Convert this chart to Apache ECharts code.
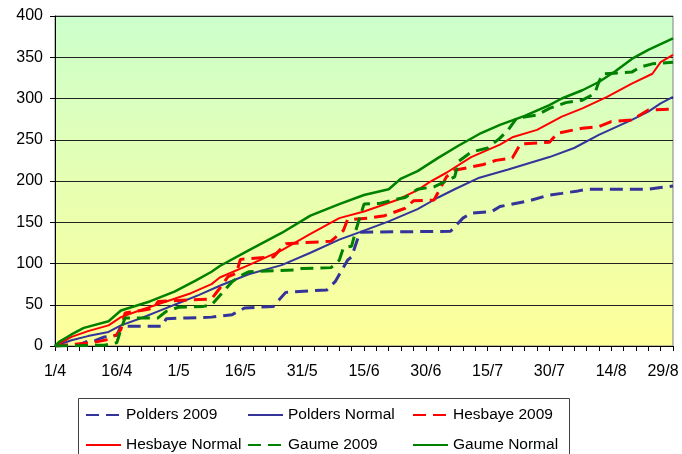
<!DOCTYPE html>
<html>
<head>
<meta charset="utf-8">
<script src="https://cdn.jsdelivr.net/npm/echarts@6/dist/echarts.min.js"></script>
<style>
html,body{margin:0;padding:0;background:#fff;}
#chart{width:682px;height:454px;}
</style>
</head>
<body>
<div id="chart"></div>
<script>
// Day index: 0 = 1/4/2009 ... 150 = 29/8/2009
const startDate = [2009, 3, 1];
const yTicks = [0, 50, 100, 150, 200, 250, 300, 350, 400];
const seriesNames = ['Polders 2009', 'Polders Normal', 'Hesbaye 2009', 'Hesbaye Normal', 'Gaume 2009', 'Gaume Normal'];

const polders2009 = [[0,0],[6,2],[8,6],[10,7],[12,11],[15,13],[16,24],[26,24],[27,33],[32,34],[38,35],[43,38],[46,46],[53,48],[56,65],[66,68],[68,78],[71,104],[72,108],[74,138],[96,139],[99,155],[101,161],[106,163],[108,169],[115,176],[120,183],[123,185],[127,188],[129,190],[144,190],[147,192],[150,194]];
const poldersNormal = [[0,0],[4,7],[8,12],[13,17],[16,25],[21,34],[25,42],[31,54],[35,62],[40,73],[47,87],[55,98],[62,113],[69,129],[74,138],[81,151],[88,166],[93,180],[97,190],[103,204],[110,214],[120,229],[126,240],[132,256],[140,274],[144,284],[147,294],[150,302]];
const hesbaye2009 = [[0,0],[7,3],[10,5],[13,8],[15,14],[16,20],[17,40],[22,44],[24,46],[25,54],[38,57],[40,70],[42,84],[44,88],[45,105],[53,108],[56,124],[67,127],[70,140],[71,153],[76,155],[80,158],[85,167],[87,176],[92,177],[95,205],[97,213],[100,216],[104,220],[107,225],[111,228],[113,245],[120,247],[122,258],[128,264],[132,266],[135,272],[140,274],[142,280],[144,286],[150,287]];
const hesbayeNormal = [[0,0],[4,11],[8,18],[13,25],[16,35],[21,44],[27,54],[33,64],[38,75],[40,83],[47,98],[55,116],[62,136],[69,155],[75,163],[83,177],[88,189],[91,199],[95,210],[101,229],[108,244],[111,253],[117,262],[123,278],[128,288],[134,302],[140,318],[145,330],[147,344],[150,353]];
const gaume2009 = [[0,0],[12,1],[15,4],[16,20],[17,34],[25,34],[27,42],[30,47],[36,48],[38,50],[43,78],[45,85],[47,90],[58,92],[60,94],[67,95],[69,104],[70,119],[72,121],[73,140],[75,172],[79,173],[82,177],[85,180],[88,190],[92,193],[95,200],[97,205],[98,224],[101,235],[105,240],[108,252],[110,262],[112,276],[117,280],[120,288],[124,295],[128,298],[131,306],[132,320],[133,330],[140,332],[142,338],[145,342],[150,344]];
const gaumeNormal = [[0,0],[1,5],[4,14],[7,22],[13,30],[16,43],[23,54],[29,66],[34,79],[38,90],[40,97],[47,116],[55,137],[62,158],[69,172],[75,183],[81,190],[84,203],[88,212],[93,228],[98,243],[103,257],[108,268],[114,279],[120,292],[123,300],[128,310],[132,320],[136,333],[140,348],[144,359],[150,373]];

const seriesData = [polders2009, poldersNormal, hesbaye2009, hesbayeNormal, gaume2009, gaumeNormal];
const colors = ['#333399', '#333399', '#FF0000', '#FF0000', '#008000', '#008000'];
const dashed = [true, false, true, false, true, false];
const widths = [3, 2, 3, 2, 3, 2.5];

function dayLabel(d) {
  const dt = new Date(startDate[0], startDate[1], startDate[2] + d);
  return dt.getDate() + '/' + (dt.getMonth() + 1);
}

const chart = echarts.init(document.getElementById('chart'), null, {renderer: 'canvas'});
const font = 'Liberation Sans, Arial, sans-serif';

const legendCommon = {
  orient: 'vertical',
  top: 407,
  height: 48,
  padding: 0,
  itemWidth: 35,
  itemHeight: 14,
  itemGap: 14,
  selectedMode: false,
  itemStyle: {opacity: 0},
  textStyle: {fontFamily: font, fontSize: 15.5, color: '#000', lineHeight: 15}
};

chart.setOption({
  animation: false,
  backgroundColor: '#fff',
  grid: {
    left: 55, right: 9, top: 16, bottom: 108,
    show: true,
    borderColor: '#808080',
    borderWidth: 1,
    backgroundColor: new echarts.graphic.LinearGradient(0, 0, 0, 1, [
      {offset: 0, color: '#CCFFCC'},
      {offset: 1, color: '#FFFF99'}
    ])
  },
  legend: [
    Object.assign({}, legendCommon, {left: 85, data: [seriesNames[0], seriesNames[3]]}),
    Object.assign({}, legendCommon, {left: 247, data: [seriesNames[1], seriesNames[4]]}),
    Object.assign({}, legendCommon, {left: 412, data: [seriesNames[2], seriesNames[5]]})
  ],
  graphic: [{
    type: 'rect',
    shape: {x: 78.5, y: 398.5, width: 491, height: 70},
    style: {fill: 'none', stroke: '#404040', lineWidth: 1},
    silent: true,
    z: 10
  }],
  xAxis: {
    type: 'value',
    min: 0, max: 150, interval: 3,
    axisLine: {show: true, onZero: false, lineStyle: {color: '#000', width: 1}},
    axisTick: {show: true, inside: false, length: 5, lineStyle: {color: '#000'}},
    splitLine: {show: false},
    axisLabel: {
      fontFamily: font, fontSize: 16, color: '#000', margin: 18,
      showMinLabel: true, showMaxLabel: true,
      formatter: function (v) {
        if (v % 15 !== 0) return '';
        if (v === 150) return '{e|' + dayLabel(v) + '}';
        return dayLabel(v);
      },
      rich: {e: {fontFamily: font, fontSize: 16, color: '#000', padding: [0, 20, 0, 0]}}
    }
  },
  yAxis: {
    type: 'value',
    min: yTicks[0], max: yTicks[yTicks.length - 1], interval: 50,
    axisLine: {show: true, lineStyle: {color: '#000', width: 1}},
    axisTick: {show: true, inside: false, length: 5, lineStyle: {color: '#000'}},
    splitLine: {show: true, lineStyle: {color: '#222', width: 1}},
    axisLabel: {fontFamily: font, fontSize: 16, color: '#000', margin: 12}
  },
  series: seriesNames.map(function (name, i) {
    return {
      name: name,
      type: 'line',
      data: seriesData[i],
      symbol: 'none',
      showSymbol: false,
      color: colors[i],
      lineStyle: {color: colors[i], width: widths[i], type: dashed[i] ? [13, 7] : 'solid'},
      z: 3
    };
  })
});
</script>
</body>
</html>
